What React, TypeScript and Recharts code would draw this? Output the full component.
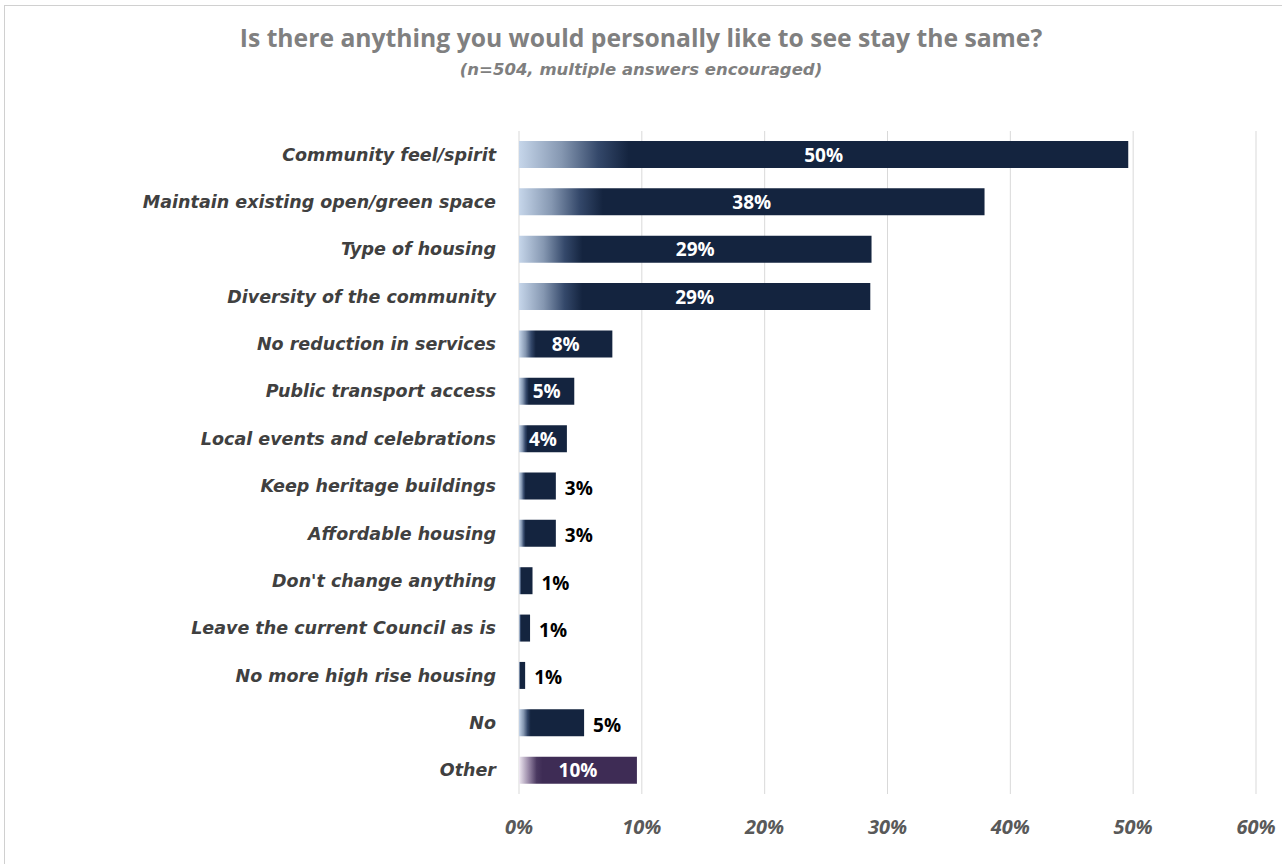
import React from 'react';
import { BarChart, Bar, XAxis, YAxis, CartesianGrid, Cell, LabelList } from 'recharts';

const categories = [
  'Community feel/spirit',
  'Maintain existing open/green space',
  'Type of housing',
  'Diversity of the community',
  'No reduction in services',
  'Public transport access',
  'Local events and celebrations',
  'Keep heritage buildings',
  'Affordable housing',
  "Don't change anything",
  'Leave the current Council as is',
  'No more high rise housing',
  'No',
  'Other',
];

const shares = [49.6, 37.9, 28.7, 28.6, 7.6, 4.5, 3.9, 3.0, 3.0, 1.1, 0.9, 0.5, 5.3, 9.6];

const xTicks = [0, 10, 20, 30, 40, 50, 60];

const data = categories.map((name, i) => ({ name, value: shares[i] }));

// labels drawn to the right of the bar, as in the original
const outsideLabels = new Set([
  'Keep heritage buildings',
  'Affordable housing',
  "Don't change anything",
  'Leave the current Council as is',
  'No more high rise housing',
  'No',
]);

const FONT = '"Open Sans", "DejaVu Sans", sans-serif';
const WIDE_FONT = '"DejaVu Sans", "Open Sans", sans-serif';

const CategoryTick = (props: any) => {
  const { x, y, payload } = props;
  return (
    <text
      x={x}
      y={y}
      textAnchor="end"
      dominantBaseline="central"
      fill="#404040"
      fontFamily={WIDE_FONT}
      fontStyle="italic"
      fontWeight={700}
      fontSize={17.5}
    >
      {payload.value}
    </text>
  );
};

const PercentTick = (props: any) => {
  const { x, y, payload } = props;
  return (
    <text
      x={x}
      y={y + 32}
      textAnchor="middle"
      dominantBaseline="central"
      fill="#595959"
      fontFamily={FONT}
      fontStyle="italic"
      fontWeight={700}
      fontSize={20}
    >
      {`${payload.value}%`}
    </text>
  );
};

const ValueLabel = (props: any) => {
  const { x, y, width, height, value, index } = props;
  const name = categories[index];
  const text = `${Math.round(value)}%`;
  if (outsideLabels.has(name)) {
    return (
      <text
        x={x + width + 9}
        y={y + height / 2 + 2}
        dominantBaseline="central"
        fill="#000"
        fontFamily={FONT}
        fontWeight={700}
        fontSize={19}
      >
        {text}
      </text>
    );
  }
  return (
    <text
      x={x + width / 2}
      y={y + height / 2}
      textAnchor="middle"
      dominantBaseline="central"
      fill="#fff"
      fontFamily={FONT}
      fontWeight={700}
      fontSize={19}
    >
      {text}
    </text>
  );
};

export default function App() {
  return (
    <div style={{ position: 'fixed', left: 0, top: 0, width: 1282, height: 864, overflow: 'hidden', background: '#fff' }}>
      <div
        style={{
          position: 'absolute',
          left: 4,
          top: 5,
          width: 1400,
          height: 1000,
          borderLeft: '1px solid #d0d0d0',
          borderTop: '1px solid #d0d0d0',
        }}
      />
      <div
        style={{
          position: 'absolute',
          left: 0,
          top: 21,
          width: 1282,
          textAlign: 'center',
          fontFamily: FONT,
          fontWeight: 700,
          fontSize: 24.7,
          lineHeight: '34px',
          color: '#808080',
        }}
      >
        Is there anything you would personally like to see stay the same?
      </div>
      <div
        style={{
          position: 'absolute',
          left: 0,
          top: 58,
          width: 1282,
          textAlign: 'center',
          fontFamily: WIDE_FONT,
          fontWeight: 700,
          fontStyle: 'italic',
          fontSize: 16.5,
          lineHeight: '24px',
          color: '#7f7f7f',
        }}
      >
        (n=504, multiple answers encouraged)
      </div>
      <div style={{ position: 'absolute', left: 0, top: 0 }}>
        <BarChart
          width={1282}
          height={864}
          data={data}
          layout="vertical"
          margin={{ top: 131, right: 26, bottom: 0, left: 0 }}
        >
          <defs>
            <linearGradient id="gradNavy" x1="0" y1="0" x2="1" y2="0">
              <stop offset="0" stopColor="#c6d6ea" />
              <stop offset="0.07" stopColor="#8597b1" />
              <stop offset="0.13" stopColor="#34486a" />
              <stop offset="0.18" stopColor="#14243f" />
              <stop offset="1" stopColor="#14243f" />
            </linearGradient>
            <linearGradient id="gradPurple" x1="0" y1="0" x2="1" y2="0">
              <stop offset="0" stopColor="#efe9f2" />
              <stop offset="0.08" stopColor="#9a8aa8" />
              <stop offset="0.15" stopColor="#4a3860" />
              <stop offset="0.2" stopColor="#3e2c55" />
              <stop offset="1" stopColor="#3e2c55" />
            </linearGradient>
          </defs>
          <CartesianGrid horizontal={false} stroke="#d9d9d9" />
          <XAxis
            type="number"
            domain={[0, 60]}
            ticks={xTicks}
            axisLine={false}
            tickLine={false}
            tickSize={0}
            tickMargin={0}
            height={70}
            tick={<PercentTick />}
            interval={0}
          />
          <YAxis
            type="category"
            dataKey="name"
            width={519}
            axisLine={false}
            tickLine={false}
            tickSize={0}
            tickMargin={23}
            tick={<CategoryTick />}
            interval={0}
          />
          <Bar dataKey="value" barSize={27} isAnimationActive={false}>
            {data.map((d, i) => (
              <Cell key={`cell-${i}`} fill={d.name === 'Other' ? 'url(#gradPurple)' : 'url(#gradNavy)'} />
            ))}
            <LabelList dataKey="value" content={<ValueLabel />} />
          </Bar>
        </BarChart>
      </div>
    </div>
  );
}
